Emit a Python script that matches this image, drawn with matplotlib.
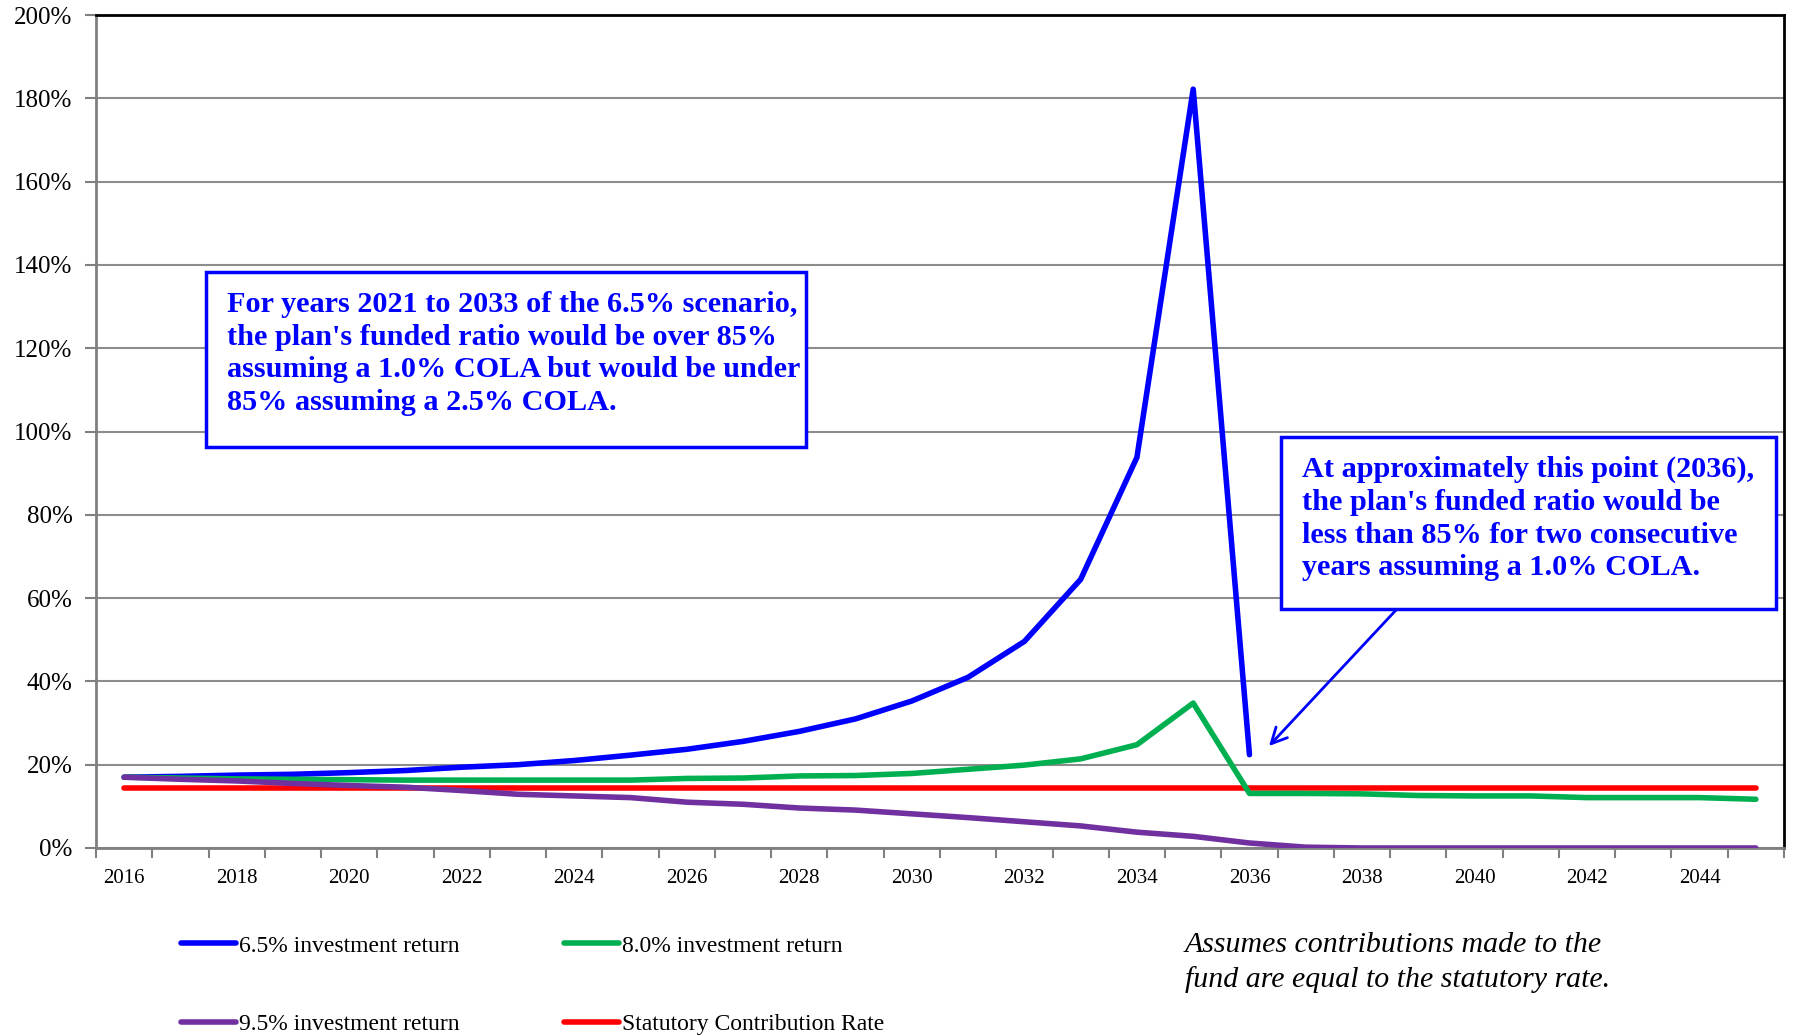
import matplotlib
matplotlib.use("Agg")
import matplotlib.pyplot as plt
from matplotlib.patches import Rectangle
from matplotlib.ticker import FixedLocator, FuncFormatter

plt.rcParams['font.family'] = ['Liberation Serif', 'DejaVu Serif']

# Projection years
years = list(range(2016, 2046))

# Contribution rate needed under each investment-return assumption (%)
ret_65 = [17.0, 17.2, 17.5, 17.7, 18.1, 18.6, 19.4, 20.0, 21.0, 22.3,
          23.7, 25.6, 28.0, 31.0, 35.3, 41.0, 49.6, 64.5, 93.8, 182.2,
          22.4]
ret_80 = [17.0, 16.8, 16.6, 16.5, 16.4, 16.3, 16.3, 16.3, 16.3, 16.3,
          16.7, 16.8, 17.3, 17.4, 17.9, 18.9, 19.9, 21.4, 24.8, 34.8,
          13.1, 13.1, 13.0, 12.6, 12.5, 12.5, 12.1, 12.1, 12.1, 11.7]
ret_95 = [17.0, 16.5, 16.1, 15.5, 15.0, 14.6, 13.8, 12.9, 12.5, 12.1,
          11.0, 10.5, 9.6, 9.1, 8.2, 7.3, 6.3, 5.3, 3.8, 2.8,
          1.2, 0.2, 0.0, 0.0, 0.0, 0.0, 0.0, 0.0, 0.0, 0.0]
statutory = [14.5] * 30

series_labels = ["6.5% investment return", "8.0% investment return",
                 "9.5% investment return", "Statutory Contribution Rate"]
series_colors = ["#0000FF", "#00B050", "#7030A0", "#FF0000"]

y_ticks = list(range(0, 201, 20))
x_label_years = list(range(2016, 2045, 2))

note_left = ("For years 2021 to 2033 of the 6.5% scenario,\n"
             "the plan's funded ratio would be over 85%\n"
             "assuming a 1.0% COLA but would be under\n"
             "85% assuming a 2.5% COLA.")
note_right = ("At approximately this point (2036),\n"
              "the plan's funded ratio would be\n"
              "less than 85% for two consecutive\n"
              "years assuming a 1.0% COLA.")
footnote = ("Assumes contributions made to the\n"
            "fund are equal to the statutory rate.")

W, H = 1793, 1036
fig = plt.figure(figsize=(W / 100, H / 100), dpi=100)
fig.patch.set_facecolor("white")


def fx(px):
    return px / W


def fy(py):
    return 1 - py / H


ax = fig.add_axes([fx(96), fy(848), fx(1784) - fx(96), fy(15) - fy(848)])

lines = []
for vals, lab, col in zip([ret_65, ret_80, ret_95, statutory],
                          series_labels, series_colors):
    ln, = ax.plot(years[:len(vals)], vals, color=col, lw=4, label=lab,
                  solid_capstyle="round", solid_joinstyle="round", zorder=3)
    lines.append(ln)
# statutory line is drawn beneath the scenario lines
lines[3].set_zorder(2.5)

ax.set_xlim(2015.5, 2045.5)
ax.set_ylim(0, 200)

# y axis
ax.set_yticks(y_ticks)
ax.yaxis.set_major_formatter(FuncFormatter(lambda v, p: f"{int(v)}%"))
ax.grid(axis="y", color="#8c8c8c", lw=1.5, zorder=1)
ax.tick_params(axis="y", length=8, width=1.5, color="#808080",
               labelsize=18, pad=9)

# x axis: tick marks between categories, labels every second year
ax.xaxis.set_major_locator(FixedLocator([2015.5 + k for k in range(31)]))
ax.xaxis.set_major_formatter(FuncFormatter(lambda v, p: ""))
ax.xaxis.set_minor_locator(FixedLocator(x_label_years))
ax.xaxis.set_minor_formatter(FuncFormatter(lambda v, p: f"{int(v)}"))
ax.tick_params(axis="x", which="major", length=7, width=1.5, color="#808080")
ax.tick_params(axis="x", which="minor", length=0, labelsize=15, pad=15)

for side in ["left", "bottom"]:
    ax.spines[side].set_color("#808080")
    ax.spines[side].set_linewidth(2)
for side in ["top", "right"]:
    ax.spines[side].set_color("black")
    ax.spines[side].set_linewidth(2)

# legend in two columns below the chart
order = [0, 2, 1, 3]
fig.legend([lines[i] for i in order], [series_labels[i] for i in order],
           ncol=2, loc="upper left", bbox_to_anchor=(fx(181), fy(935)),
           frameon=False, fontsize=17, handlelength=2.33, handletextpad=0.12,
           columnspacing=4.45, labelspacing=2.42, borderpad=0,
           borderaxespad=0)

# footnote
fig.text(fx(1185), fy(932), footnote, fontsize=21.5, style="italic",
         ha="left", va="top", linespacing=1.4)

# callout boxes
for (x0, y0, x1, y1), txt in [((206, 272, 806, 447), note_left),
                              ((1281, 437, 1776, 609), note_right)]:
    fig.patches.append(Rectangle((fx(x0), fy(y1)), fx(x1) - fx(x0),
                                 fy(y0) - fy(y1), transform=fig.transFigure,
                                 facecolor="white", edgecolor="#0000FF",
                                 lw=2.5, zorder=5))
    fig.text(fx(x0 + 21), fy(y0 + 19), txt, fontsize=21.8,
             fontweight="bold", color="#0000FF", ha="left", va="top",
             linespacing=1.27, zorder=6)

# arrow from the right-hand callout to the 2036 drop
ax.annotate("", xy=(fx(1269), fy(746)), xycoords="figure fraction",
            xytext=(fx(1397), fy(609)), textcoords="figure fraction",
            arrowprops=dict(arrowstyle="->", color="#0000FF", lw=2,
                            mutation_scale=28, shrinkA=0, shrinkB=0))

fig.savefig("out.png", dpi=100)
